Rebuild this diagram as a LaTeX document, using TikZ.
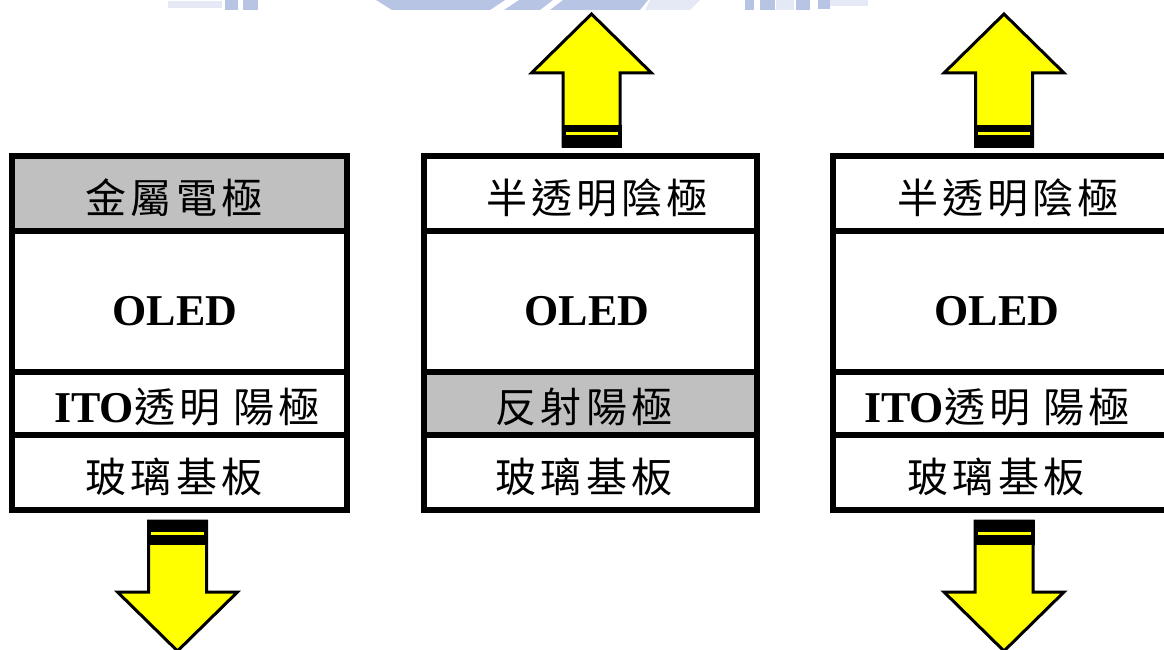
\documentclass[tikz,border=0pt]{standalone}
\usepackage{fontspec}
\setmainfont{Liberation Serif}
\newfontfamily\cjkfont[LetterSpace=10]{Noto Sans CJK TC}
\newcommand{\zhtxt}[1]{{\cjkfont\fontsize{41}{41}\selectfont #1}}
\newcommand{\latxt}[1]{{\bfseries\fontsize{44}{44}\selectfont #1}}
\definecolor{layergray}{RGB}{192,192,192}
\definecolor{wmblue}{RGB}{184,196,228}
\definecolor{wmpale}{RGB}{228,233,245}
\definecolor{arrowyellow}{RGB}{255,255,0}
\begin{document}
\begin{tikzpicture}[x=1pt,y=-1pt,
  layer/.style={draw=black, line width=6pt, rectangle, minimum width=#1, inner sep=0pt},
  txt/.style={inner sep=0pt, anchor=center},
  arrowbody/.style={fill=arrowyellow, draw=black, line width=3pt, line join=miter},
  band/.style={fill=black}
]
\useasboundingbox (0,0) rectangle (1164,650);
\clip (0,0) rectangle (1164,650);
% watermark (cropped logo at the top)
\fill[wmpale] (168,1) rectangle (222,8);
\fill[wmblue] (225,0) rectangle (238,10);
\fill[wmblue] (243,0) rectangle (258,10);
\fill[wmblue] (376,0) -- (505,0) -- (490,10) -- (392,10) -- cycle;
\fill[wmblue] (519,0) -- (553,0) -- (540,10) -- (504,10) -- cycle;
\fill[wmblue] (563,0) -- (648,0) -- (640,10) -- (550,10) -- cycle;
\fill[wmpale] (650,0) -- (700,0) -- (690,10) -- (645,10) -- cycle;
\fill[wmblue] (745,0) rectangle (754,10);
\fill[wmblue] (760,0) rectangle (775,10);
\fill[wmpale] (776,0) rectangle (794,10);
\fill[wmblue] (796,0) rectangle (810,10);
\fill[wmblue] (818,0) rectangle (830,9);
\fill[wmpale] (830,0) rectangle (868,6);

% ---------- left stack ----------
\node[layer=335, minimum height=75, fill=layergray] (L1) at (179,193.5) {};
\node[layer=335, minimum height=141, fill=white] (L2) at (179,301.5) {};
\node[layer=335, minimum height=63, fill=white] (L3) at (179,403.5) {};
\node[layer=335, minimum height=75, fill=white] (L4) at (179,472.5) {};
\node[txt] (L1t) at (174,198) {\zhtxt{金屬電極}};
\node[txt] (L2t) at (175,311) {\latxt{OLED}};
\node[txt] (L3t) at (187,407) {\latxt{ITO}\zhtxt{透明 陽極}};
\node[txt] (L4t) at (174,477) {\zhtxt{玻璃基板}};

% ---------- middle stack ----------
\node[layer=333, minimum height=75, fill=white] (M1) at (590.5,193.5) {};
\node[layer=333, minimum height=141, fill=white] (M2) at (590.5,301.5) {};
\node[layer=333, minimum height=63, fill=layergray] (M3) at (590.5,403.5) {};
\node[layer=333, minimum height=75, fill=white] (M4) at (590.5,472.5) {};
\node[txt] (M1t) at (597,198) {\zhtxt{半透明陰極}};
\node[txt] (M2t) at (587,311) {\latxt{OLED}};
\node[txt] (M3t) at (584,407) {\zhtxt{反射陽極}};
\node[txt] (M4t) at (584,477) {\zhtxt{玻璃基板}};

% ---------- right stack ----------
\node[layer=335, minimum height=75, fill=white] (R1) at (1000.5,193.5) {};
\node[layer=335, minimum height=141, fill=white] (R2) at (1000.5,301.5) {};
\node[layer=335, minimum height=63, fill=white] (R3) at (1000.5,403.5) {};
\node[layer=335, minimum height=75, fill=white] (R4) at (1000.5,472.5) {};
\node[txt] (R1t) at (1008,198) {\zhtxt{半透明陰極}};
\node[txt] (R2t) at (997,311) {\latxt{OLED}};
\node[txt] (R3t) at (997,407) {\latxt{ITO}\zhtxt{透明 陽極}};
\node[txt] (R4t) at (996,477) {\zhtxt{玻璃基板}};

% ---------- up arrows ----------
\foreach \cx/\nm in {591.5/MU, 1004/RU}{
  \coordinate (\nm) at (\cx,146);
  \draw[arrowbody] (\cx-28.5,146) -- (\cx-28.5,73) -- (\cx-60,73) -- (\cx,14)
      -- (\cx+60,73) -- (\cx+28.5,73) -- (\cx+28.5,146) -- cycle;
  \fill[band] (\cx-30,125) rectangle (\cx+30,147.5);
  \fill[arrowyellow] (\cx-26,132) rectangle (\cx+26,135);
}
% ---------- down arrows ----------
\foreach \cx/\nm in {177.5/LD, 1004/RD}{
  \coordinate (\nm) at (\cx,521);
  \draw[arrowbody] (\cx-29,521) -- (\cx-29,592) -- (\cx-60,592) -- (\cx,651)
      -- (\cx+60,592) -- (\cx+29,592) -- (\cx+29,521) -- cycle;
  \fill[band] (\cx-30.5,519.5) rectangle (\cx+30.5,545);
  \fill[arrowyellow] (\cx-26.5,532) rectangle (\cx+26.5,535);
}
\end{tikzpicture}
\end{document}
